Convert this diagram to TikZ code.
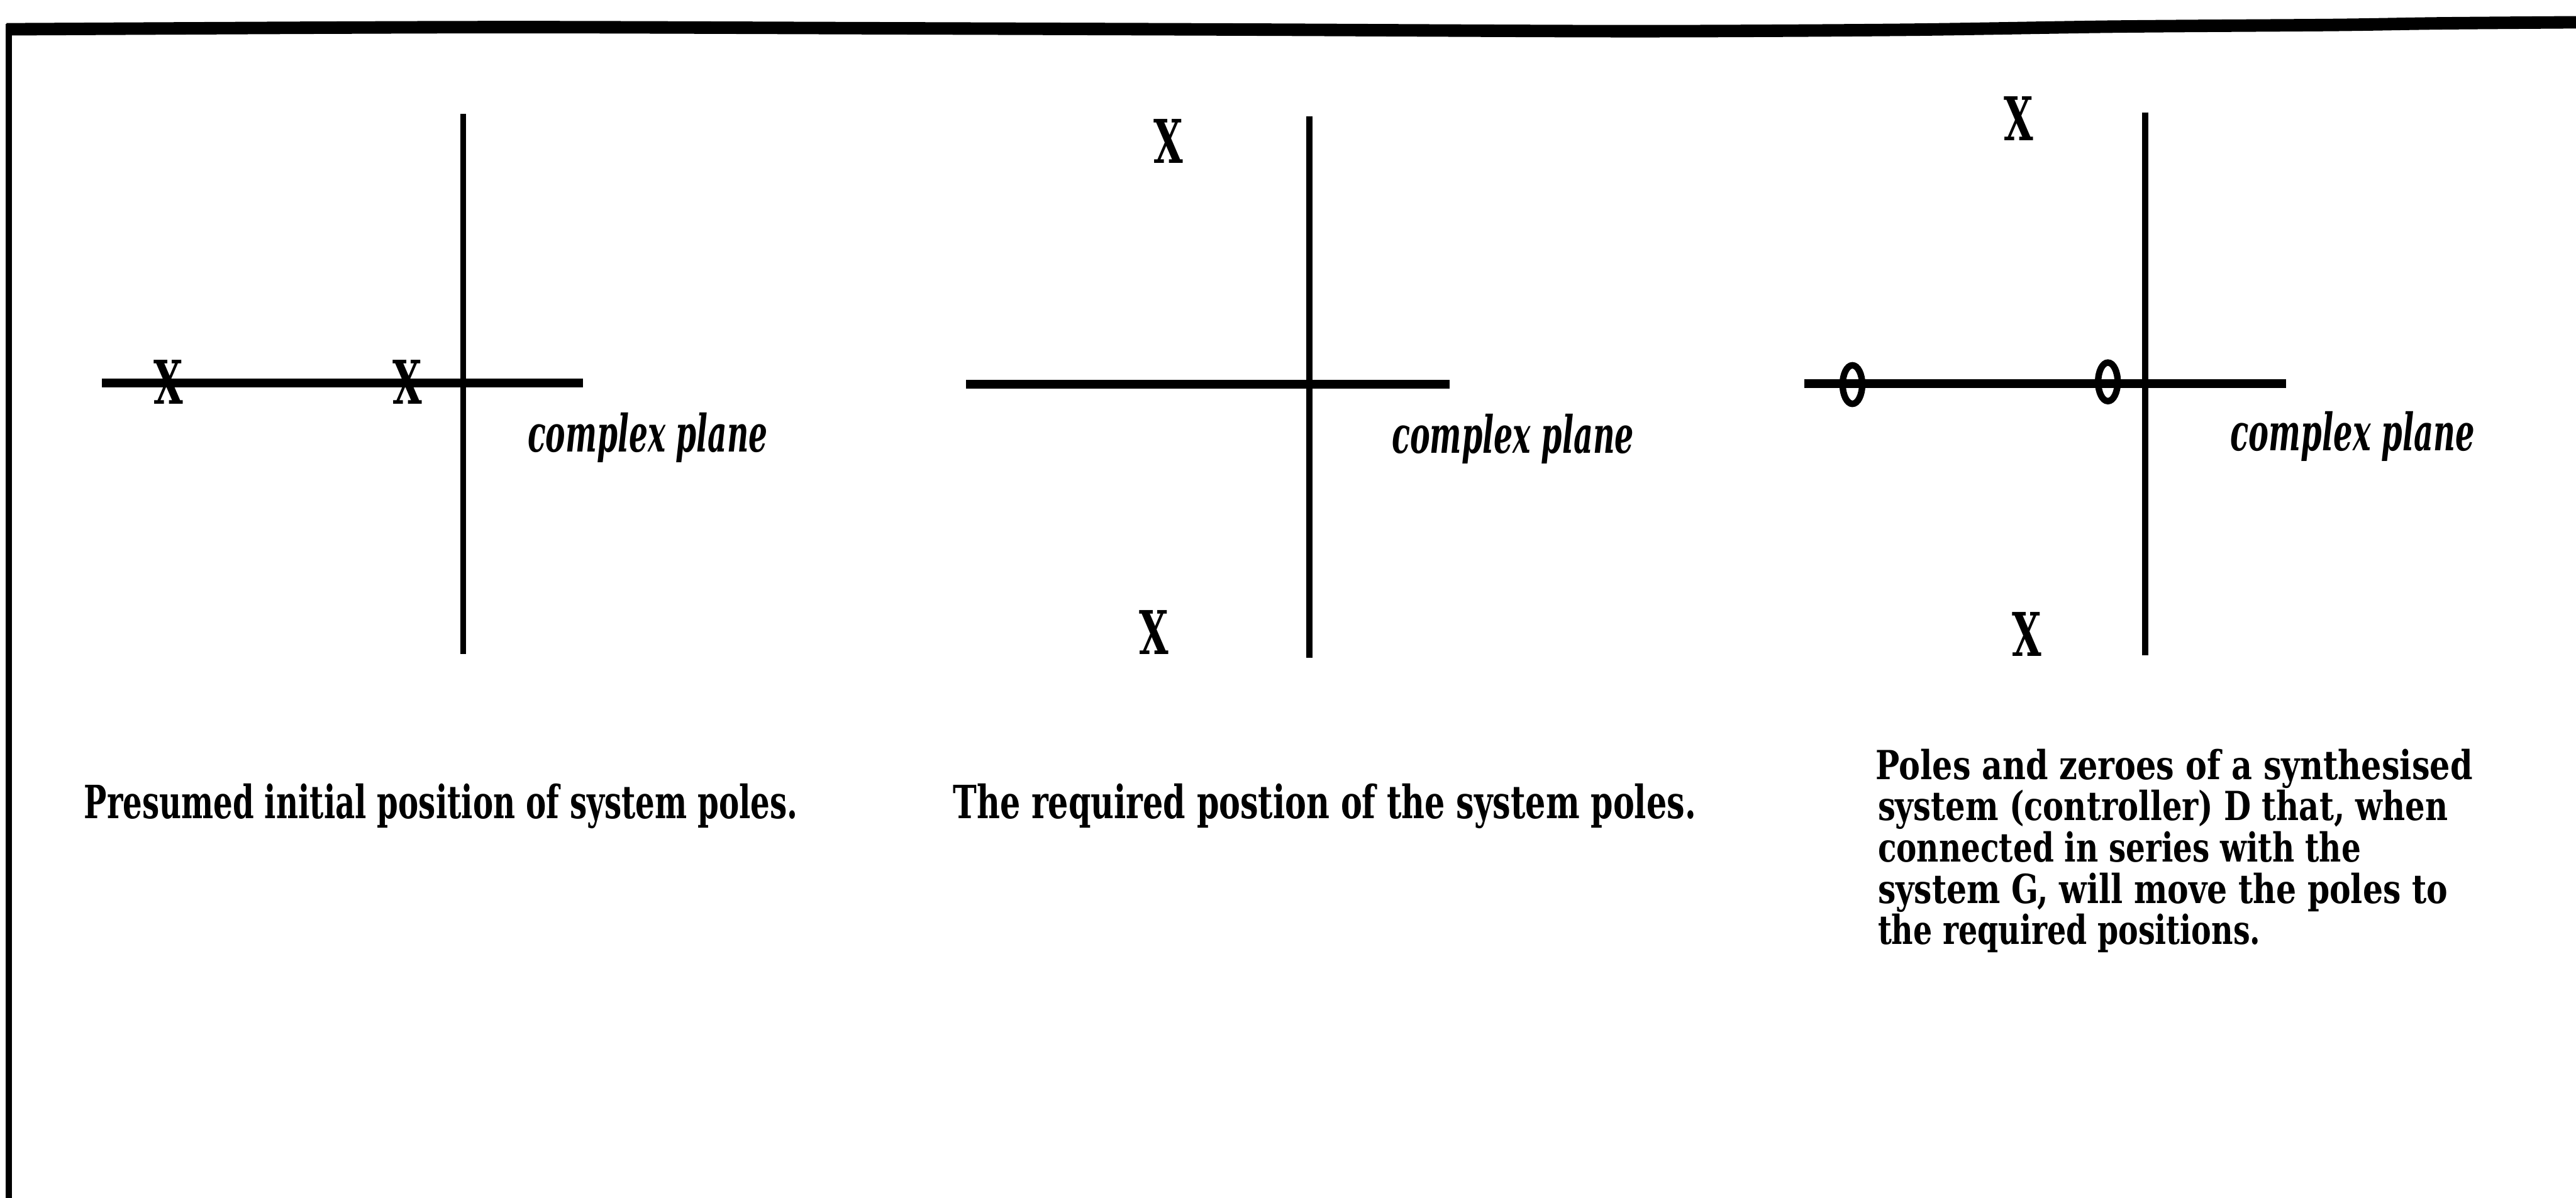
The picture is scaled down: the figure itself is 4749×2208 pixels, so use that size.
\documentclass[tikz,border=0pt]{standalone}
\usepackage{fontspec}
\setmainfont{DejaVu Serif}
\usepackage{graphicx}
\usetikzlibrary{shapes.geometric}
\newcommand\fitto[2]{\resizebox{#1}{\height}{#2}}
\tikzset{
  frameline/.style={line width=0.23cm},
  leftline/.style={line width=0.12cm},
  haxis/.style={line width=0.16cm},
  vaxis/.style={line width=0.11cm},
  caption/.style={inner sep=0pt, outer sep=0pt, anchor=base west,
    font=\fontsize{24}{28}\selectfont\bfseries},
  smallcap/.style={caption, font=\fontsize{21}{25}\selectfont\bfseries},
  cplx/.style={inner sep=0pt, outer sep=0pt, anchor=base west,
    font=\fontsize{27}{32}\selectfont\bfseries\itshape},
  pole/.style={inner sep=0pt, outer sep=0pt, font=\bfseries},
  zero/.style={draw, ellipse, line width=0.12cm, inner sep=0pt,
    minimum width=0.36cm, minimum height=0.71cm}
}
\newcommand\polemark{\resizebox{0.54cm}{0.81cm}{X}}
\begin{document}
\begin{tikzpicture}[x=0.01cm,y=-0.01cm]
\useasboundingbox (0,0) rectangle (4749,2208);
\fill[white] (0,0) rectangle (4749,2208);
% frame
\draw[frameline] plot[smooth] coordinates {(12,54) (600,51) (1000,50) (1600,52) (2300,54.5) (3000,57.5) (3500,55) (3900,49) (4300,46) (4500,43) (4760,41)};
\draw[leftline] (16,44) -- (16,2215);

% panel 1
\draw[haxis] (188,706) -- (1075,706);
\draw[vaxis] (854,210) -- (854,1206);
\node[pole] (p1a) at (310,704) {\polemark};
\node[pole] (p1b) at (751,704) {\polemark};
\node[cplx] (c1) at (973,833) {\fitto{4.42cm}{complex plane}};

% panel 2
\draw[haxis] (1781,708) -- (2673,708);
\draw[vaxis] (2414,215) -- (2414,1213);
\node[pole] (p2a) at (2154,260) {\polemark};
\node[pole] (p2b) at (2127,1166) {\polemark};
\node[cplx] (c2) at (2566,835) {\fitto{4.46cm}{complex plane}};

% panel 3
\draw[haxis] (3326,707) -- (4214,707);
\draw[vaxis] (3955,207) -- (3955,1208);
\node[zero] (z3a) at (3415,709) {};
\node[zero] (z3b) at (3886,704) {};
\node[pole] (p3a) at (3722,219) {\polemark};
\node[pole] (p3b) at (3736,1169) {\polemark};
\node[cplx] (c3) at (4112,831) {\fitto{4.50cm}{complex plane}};

% captions
\node[caption] (t1) at (155,1509) {\fitto{13.15cm}{Presumed initial position of system poles.}};
\node[caption] (t2) at (1757,1509) {\fitto{13.69cm}{The required postion of the system poles.}};
\node[smallcap] (t3a) at (3458,1437) {\fitto{11.00cm}{Poles and zeroes of a synthesised}};
\node[smallcap] (t3b) at (3462,1513) {\fitto{10.50cm}{system (controller) D that, when}};
\node[smallcap] (t3c) at (3462,1589) {\fitto{8.90cm}{connected in series with the}};
\node[smallcap] (t3d) at (3462,1665) {\fitto{10.50cm}{system G, will move the poles to}};
\node[smallcap] (t3e) at (3462,1741) {\fitto{7.05cm}{the required positions.}};
\end{tikzpicture}
\end{document}
